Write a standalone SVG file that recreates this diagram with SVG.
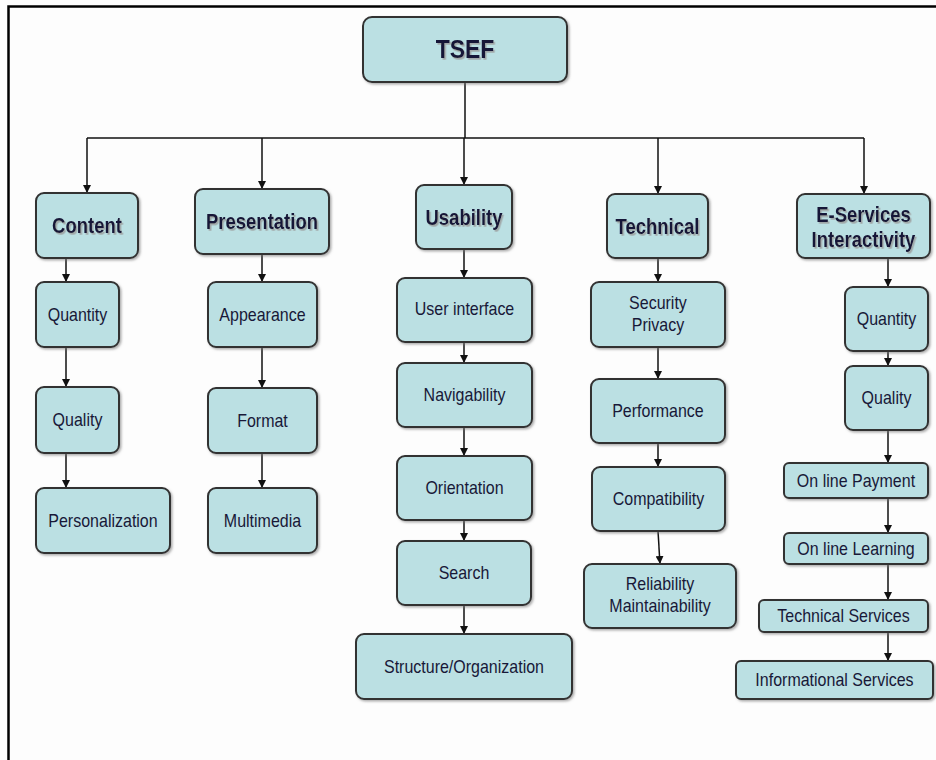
<svg xmlns="http://www.w3.org/2000/svg" width="936" height="760" viewBox="0 0 936 760">
<defs>
<marker id="ah" viewBox="0 0 10 10" refX="10" refY="5" markerWidth="8" markerHeight="8" markerUnits="userSpaceOnUse" orient="auto">
<path d="M0,0 L10,5 L0,10 z" fill="#111"/>
</marker>
<filter id="bsh" x="-10%" y="-10%" width="125%" height="130%">
<feDropShadow dx="1.5" dy="1.5" stdDeviation="1" flood-color="#777" flood-opacity="0.6"/>
</filter>
<filter id="tsh" x="-10%" y="-20%" width="130%" height="150%">
<feDropShadow dx="1.5" dy="1.5" stdDeviation="0.6" flood-color="#999" flood-opacity="0.8"/>
</filter>
</defs>
<style>
rect.n { fill:#bbe0e3; stroke:#333; stroke-width:2; filter:url(#bsh); }
text { font-family:"Liberation Sans", Arial, sans-serif; fill:#181838; text-anchor:middle; transform-box:fill-box; transform-origin:center; transform:scaleY(1.15); }
text.s { font-size:16px; }
text.b { font-size:18.5px; font-weight:bold; filter:url(#tsh); }
text.t { font-size:23px; font-weight:bold; filter:url(#tsh); }
.c path { fill:none; stroke:#111; stroke-width:1.5; }
</style>
<rect x="0" y="0" width="936" height="760" fill="#fdfdfd"/>
<path d="M8.5,760 V6.5 H936" fill="none" stroke="#000" stroke-width="2.5"/>

<g id="connectors" class="c">
<path d="M465,82 V138"/>
<path d="M87,138 H864"/>
<path d="M87,138 V193" marker-end="url(#ah)"/>
<path d="M262,138 V189" marker-end="url(#ah)"/>
<path d="M464,138 V185" marker-end="url(#ah)"/>
<path d="M658,138 V194" marker-end="url(#ah)"/>
<path d="M864,138 V194" marker-end="url(#ah)"/>
<path d="M66,258 V282" marker-end="url(#ah)"/>
<path d="M66,347 V387" marker-end="url(#ah)"/>
<path d="M66,453 V488" marker-end="url(#ah)"/>
<path d="M262,254 V282" marker-end="url(#ah)"/>
<path d="M262,347 V388" marker-end="url(#ah)"/>
<path d="M262,453 V488" marker-end="url(#ah)"/>
<path d="M464,249 V278" marker-end="url(#ah)"/>
<path d="M464,342 V363" marker-end="url(#ah)"/>
<path d="M464,427 V456" marker-end="url(#ah)"/>
<path d="M464,520 V541" marker-end="url(#ah)"/>
<path d="M464,605 V634" marker-end="url(#ah)"/>
<path d="M658,258 V282" marker-end="url(#ah)"/>
<path d="M658,347 V379" marker-end="url(#ah)"/>
<path d="M658,443 V467" marker-end="url(#ah)"/>
<path d="M658,531 L660,564" marker-end="url(#ah)"/>
<path d="M888,258 V287" marker-end="url(#ah)"/>
<path d="M888,351 V366" marker-end="url(#ah)"/>
<path d="M888,430 V463" marker-end="url(#ah)"/>
<path d="M888,498 V533" marker-end="url(#ah)"/>
<path d="M888,564 V600" marker-end="url(#ah)"/>
<path d="M888,632 V661" marker-end="url(#ah)"/>
</g>

<g id="tsef"><rect class="n" x="363" y="17" width="204" height="65" rx="9"/><text class="t" x="465" y="57">TSEF</text></g>

<g id="content"><rect class="n" x="36" y="193" width="102" height="65" rx="8"/><text class="b" x="87" y="232">Content</text></g>
<g id="presentation"><rect class="n" x="195" y="189" width="134" height="65" rx="8"/><text class="b" x="262" y="228">Presentation</text></g>
<g id="usability"><rect class="n" x="416" y="185" width="96" height="64" rx="8"/><text class="b" x="464" y="224">Usability</text></g>
<g id="technical"><rect class="n" x="607" y="194" width="101" height="64" rx="8"/><text class="b" x="657.5" y="233">Technical</text></g>
<g id="eservices"><rect class="n" x="797" y="194" width="133" height="64" rx="8"/><text class="b" x="863.5" y="221">E-Services</text><text class="b" x="863.5" y="246">Interactivity</text></g>

<g id="c-quantity"><rect class="n" x="36" y="282" width="83" height="65" rx="8"/><text class="s" x="77.5" y="320.5">Quantity</text></g>
<g id="c-quality"><rect class="n" x="36" y="387" width="83" height="66" rx="8"/><text class="s" x="77.5" y="425.5">Quality</text></g>
<g id="c-personalization"><rect class="n" x="36" y="488" width="134" height="65" rx="8"/><text class="s" x="103" y="526">Personalization</text></g>

<g id="p-appearance"><rect class="n" x="208" y="282" width="109" height="65" rx="8"/><text class="s" x="262.5" y="320">Appearance</text></g>
<g id="p-format"><rect class="n" x="208" y="388" width="109" height="65" rx="8"/><text class="s" x="262.5" y="426">Format</text></g>
<g id="p-multimedia"><rect class="n" x="208" y="488" width="109" height="65" rx="8"/><text class="s" x="262.5" y="526">Multimedia</text></g>

<g id="u-userinterface"><rect class="n" x="397" y="278" width="135" height="64" rx="8"/><text class="s" x="464.5" y="314.5">User interface</text></g>
<g id="u-navigability"><rect class="n" x="397" y="363" width="135" height="64" rx="8"/><text class="s" x="464.5" y="400.5">Navigability</text></g>
<g id="u-orientation"><rect class="n" x="397" y="456" width="135" height="64" rx="8"/><text class="s" x="464.5" y="493.5">Orientation</text></g>
<g id="u-search"><rect class="n" x="397" y="541" width="134" height="64" rx="8"/><text class="s" x="464" y="578">Search</text></g>
<g id="u-structure"><rect class="n" x="356" y="634" width="216" height="65" rx="8"/><text class="s" x="464" y="672">Structure/Organization</text></g>

<g id="t-security"><rect class="n" x="591" y="282" width="134" height="65" rx="8"/><text class="s" x="658" y="308.5">Security</text><text class="s" x="658" y="330.5">Privacy</text></g>
<g id="t-performance"><rect class="n" x="591" y="379" width="134" height="64" rx="8"/><text class="s" x="658" y="416.5">Performance</text></g>
<g id="t-compatibility"><rect class="n" x="592" y="467" width="133" height="64" rx="8"/><text class="s" x="658.5" y="504.5">Compatibility</text></g>
<g id="t-reliability"><rect class="n" x="584" y="564" width="152" height="64" rx="8"/><text class="s" x="660" y="589.5">Reliability</text><text class="s" x="660" y="611.5">Maintainability</text></g>

<g id="e-quantity"><rect class="n" x="845" y="287" width="83" height="64" rx="8"/><text class="s" x="886.5" y="324.5">Quantity</text></g>
<g id="e-quality"><rect class="n" x="845" y="366" width="83" height="64" rx="8"/><text class="s" x="886.5" y="403.5">Quality</text></g>
<g id="e-payment"><rect class="n" x="784" y="463" width="144" height="35" rx="5"/><text class="s" x="856" y="486">On line Payment</text></g>
<g id="e-learning"><rect class="n" x="784" y="533" width="144" height="31" rx="5"/><text class="s" x="856" y="554">On line Learning</text></g>
<g id="e-technical"><rect class="n" x="759" y="600" width="169" height="32" rx="5"/><text class="s" x="843.5" y="621.5">Technical Services</text></g>
<g id="e-informational"><rect class="n" x="736" y="661" width="197" height="38" rx="5"/><text class="s" x="834.5" y="685.5">Informational Services</text></g>
</svg>
